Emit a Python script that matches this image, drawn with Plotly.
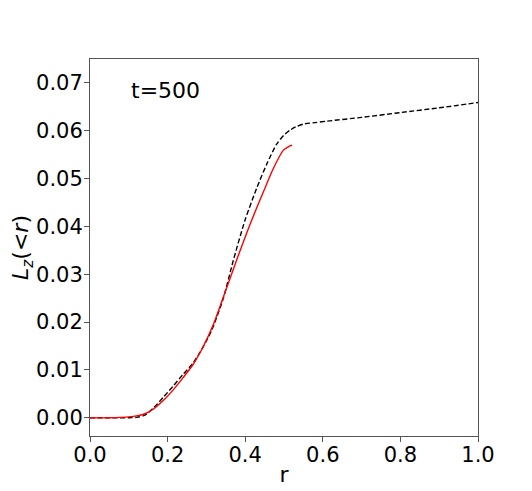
import plotly.graph_objects as go

# Black dashed curve
r_black = [0.0, 0.05, 0.10, 0.12, 0.14, 0.163, 0.19, 0.215, 0.24, 0.266, 0.29, 0.3136, 0.344, 0.369,
           0.3995, 0.4296, 0.4554, 0.481, 0.50, 0.515, 0.53, 0.55, 0.58, 0.61, 0.70, 0.80, 0.90, 1.0]
lz_black = [0.0, 0.0, 0.00002, 0.0001, 0.0005, 0.0020, 0.0044, 0.0067, 0.0091, 0.0115, 0.0146, 0.0183,
            0.0251, 0.0328, 0.0413, 0.0480, 0.0530, 0.0572, 0.0591, 0.0601, 0.0608, 0.0614, 0.0617,
            0.0620, 0.0628, 0.0638, 0.0648, 0.0659]

# Red solid curve
r_red = [0.0, 0.05, 0.08, 0.10, 0.12, 0.14, 0.163, 0.19, 0.215, 0.24, 0.266, 0.29, 0.318, 0.344,
         0.378, 0.4167, 0.4467, 0.4725, 0.498, 0.512, 0.521]
lz_red = [0.0, 0.0, 0.0001, 0.0002, 0.0004, 0.0008, 0.0018, 0.0037, 0.0059, 0.0084, 0.0112, 0.0146,
          0.0195, 0.0253, 0.0330, 0.0413, 0.0472, 0.0521, 0.0559, 0.0567, 0.0570]

x_ticks = [0.0, 0.2, 0.4, 0.6, 0.8, 1.0]
y_ticks = [0.00, 0.01, 0.02, 0.03, 0.04, 0.05, 0.06, 0.07]

fig = go.Figure()
fig.add_trace(go.Scatter(x=r_black, y=lz_black, mode="lines",
                         line=dict(color="black", width=1.4, dash="5px,2.5px", shape="spline", smoothing=0.7),
                         showlegend=False))
fig.add_trace(go.Scatter(x=r_red, y=lz_red, mode="lines",
                         line=dict(color="red", width=1.4, shape="spline", smoothing=0.7),
                         showlegend=False))

axis_common = dict(showgrid=False, zeroline=False, showline=True, linecolor="#555", linewidth=1,
                   mirror=True, ticks="outside", ticklen=5, tickcolor="#555", tickwidth=1,
                   automargin=False,
                   tickfont=dict(family="DejaVu Sans", size=21, color="black"))

fig.update_xaxes(range=[0, 1.0], tickvals=x_ticks, ticktext=[f"{v:.1f}" for v in x_ticks],
                 ticklabelstandoff=-5,
                 title=dict(text="r", font=dict(family="DejaVu Sans", size=22, color="black"), standoff=0),
                 **axis_common)
fig.update_yaxes(range=[-0.0038, 0.0750], tickvals=y_ticks, ticktext=[f"{v:.2f}" for v in y_ticks],
                 ticklabelstandoff=-3,
                 title=dict(text="<i>L</i><sub><i>z</i></sub>(&lt;<i>r</i>)",
                            font=dict(family="DejaVu Sans", size=22, color="black"), standoff=4),
                 **axis_common)

fig.add_annotation(x=0.10, y=0.0684, xref="x", yref="y", text="t=500", showarrow=False,
                   xanchor="left", yanchor="middle",
                   font=dict(family="DejaVu Sans", size=22, color="black"))

fig.update_layout(width=532, height=491, margin=dict(l=82, r=62, t=51, b=63),
                  plot_bgcolor="white", paper_bgcolor="white")

fig.write_html("out.html")
